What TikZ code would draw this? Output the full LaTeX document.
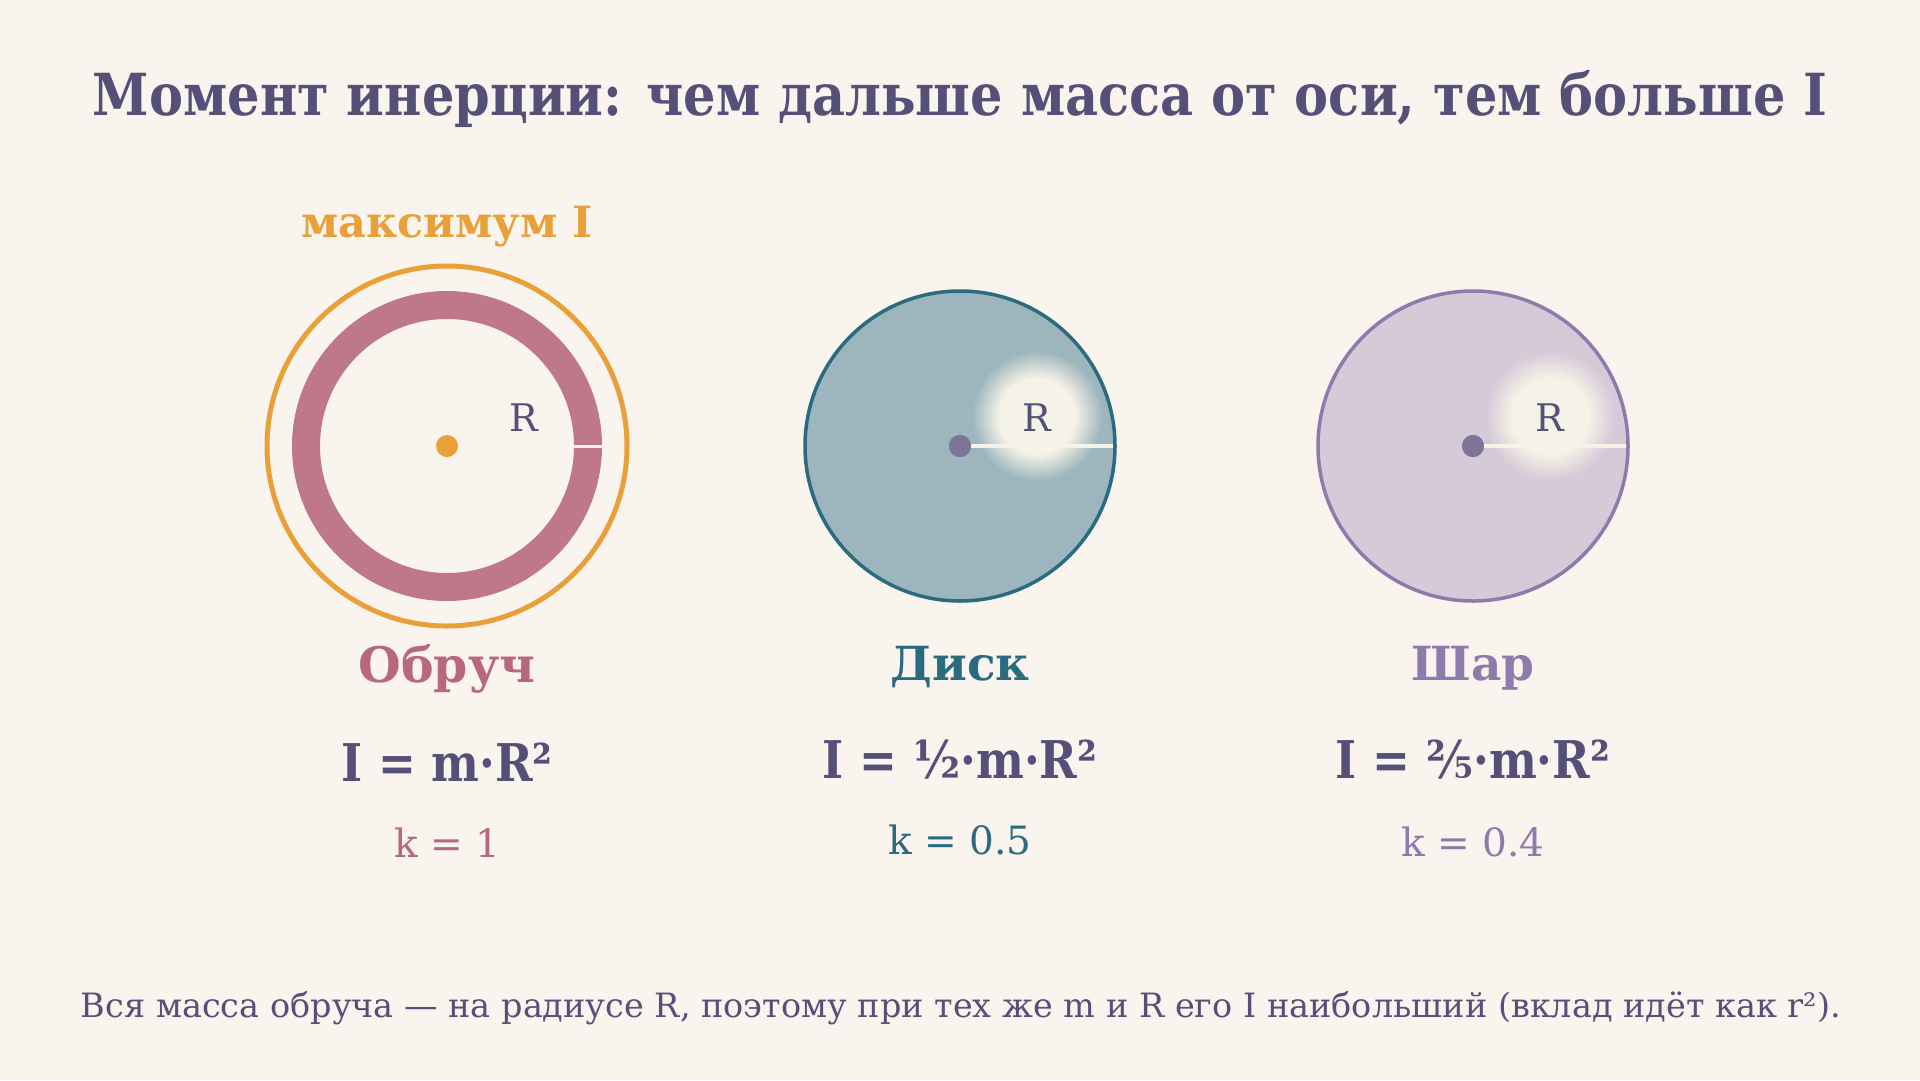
\documentclass[tikz,border=0pt]{standalone}
\usepackage{fontspec}
\setmainfont{DejaVu Serif}
\newfontfamily\estrecha[FakeStretch=0.88]{DejaVu Serif}
\newfontfamily\formulafont[FakeStretch=0.87]{DejaVu Serif}
\usetikzlibrary{positioning}

\definecolor{fondo}{HTML}{FAF4EE}
\definecolor{tinta}{HTML}{555078}
\definecolor{naranja}{HTML}{E9A038}
\definecolor{rosa}{HTML}{BE788A}
\definecolor{rosatxt}{HTML}{B8687C}
\definecolor{azul}{HTML}{2B6B80}
\definecolor{azulrelleno}{HTML}{9DB5BC}
\definecolor{lila}{HTML}{8E7AAB}
\definecolor{lilarelleno}{HTML}{D6C9D8}
\definecolor{gris}{HTML}{7D7595}
\definecolor{crema}{HTML}{F5F2E7}
\colorlet{brillofuera}{azulrelleno}

% brillo detras de la R
\pgfdeclareradialshading[brillofuera,crema]{brillo}{\pgfpoint{0bp}{0bp}}{%
  color(0bp)=(crema); color(14bp)=(crema); color(24bp)=(brillofuera); color(50bp)=(brillofuera)}

\tikzset{
  texto/.style={anchor=base, inner sep=0pt, font=\fontsize{#1}{#1}\selectfont},
  titulo/.style={texto=58, tinta, font=\fontsize{58}{58}\selectfont\estrecha\bfseries},
  nombre/.style={texto=47, font=\fontsize{47}{47}\selectfont\bfseries},
  formula/.style={texto=52, tinta, font=\fontsize{52}{52}\selectfont\formulafont\bfseries},
  coef/.style={texto=39},
  etiquetaR/.style={inner sep=0pt, tinta, font=\fontsize{38}{38}\selectfont},
  centro/.style={circle, fill=#1, inner sep=0pt, minimum size=22pt},
  radio/.style={crema, line width=3.5pt},
}

\begin{document}
\begin{tikzpicture}[x=1pt,y=-1pt]
  % Fondo
  \fill[fondo] (0,0) rectangle (1920,1080);
  \useasboundingbox (0,0) rectangle (1920,1080);

  % Titulo
  \node[titulo] (titulo) at (960,115) {Момент инерции: чем дальше масса от оси, тем больше I};

  % Dibujar el aro
  \draw[naranja, line width=5pt] (447,446) circle (180pt);
  \draw[rosa, line width=28pt] (447,446) circle (141pt);
  \coordinate (a1) at (573,446);
  \coordinate (a2) at (602,446);
  \draw[radio, line width=3pt] (a1) -- (a2);
  \node[centro=naranja] (c1) at (447,446) {};
  \node[etiquetaR] (r1) at (524,418) {R};
  \node[texto=43, naranja, font=\fontsize{43}{43}\selectfont\bfseries] (max) at (447,237) {максимум I};

  % Dibujar el disco
  \draw[azul, fill=azulrelleno, line width=3.5pt] (960,446) circle (155pt);
  \colorlet{brillofuera}{azulrelleno}
  \shade[shading=brillo] (1037,416) circle (68pt);
  \coordinate (b1) at (1113,446);
  \node[centro=gris] (c2) at (960,446) {};
  \draw[radio] (c2.center) -- (b1);
  \node[centro=gris] at (c2) {};
  \node[etiquetaR] (r2) at (1037,418) {R};

  % Dibujar la esfera
  \draw[lila, fill=lilarelleno, line width=3.5pt] (1473,446) circle (155pt);
  \colorlet{brillofuera}{lilarelleno}
  \shade[shading=brillo] (1550,416) circle (68pt);
  \coordinate (s1) at (1626,446);
  \node[centro=gris] (c3) at (1473,446) {};
  \draw[radio] (c3.center) -- (s1);
  \node[centro=gris] at (c3) {};
  \node[etiquetaR] (r3) at (1550,418) {R};

  % Nombres, formulas y coeficientes
  \node[nombre, rosatxt, font=\fontsize{49}{49}\selectfont\bfseries] (obruch) at (447,682) {Обруч};
  \node[nombre, azul] (disk) at (960,680) {Диск};
  \node[nombre, lila] (shar) at (1473,680) {Шар};

  \node[formula] (f1) at (447,781) {I = m·R²};
  \node[formula] (f2) at (960,778) {I = ½·m·R²};
  \node[formula] (f3) at (1473,778) {I = ⅖·m·R²};

  \node[coef, rosatxt] (k1) at (447,857) {k = 1};
  \node[coef, azul] (k2) at (960,854) {k = 0.5};
  \node[coef, lila] (k3) at (1473,856) {k = 0.4};

  % Nota
  \node[texto=33.5, tinta] (nota) at (961,1017) {Вся масса обруча — на радиусе R, поэтому при тех же m и R его I наибольший (вклад идёт как r²).};
\end{tikzpicture}
\end{document}
